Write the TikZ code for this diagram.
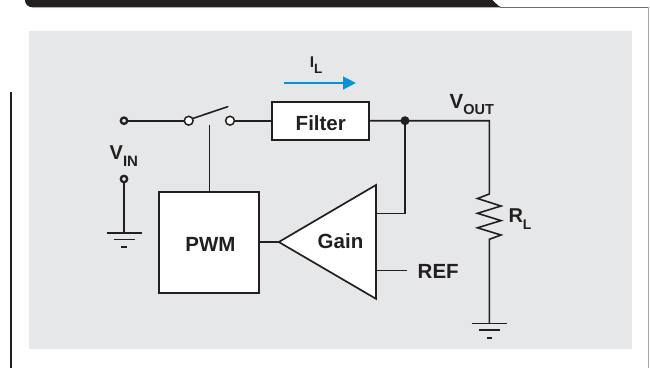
\documentclass[tikz,border=0pt]{standalone}
\usepackage{fontspec}
\setmainfont{Liberation Sans}
\usetikzlibrary{arrows.meta}
\definecolor{ink}{HTML}{231F20}
\definecolor{panel}{HTML}{E6E7E8}
\definecolor{cur}{RGB}{0,150,214}
\definecolor{rimdark}{HTML}{6D6E71}
\definecolor{rimlight}{HTML}{A7A9AC}
\begin{document}
\begin{tikzpicture}[x=1pt,y=-1pt,
  wire/.style={draw=ink,line width=1.6pt},
  boxnode/.style={draw=ink,line width=1.7pt,fill=white,inner sep=0pt},
  lbl/.style={text=ink,inner sep=0pt,font=\fontsize{20.5}{24}\selectfont\bfseries},
  term/.style={circle,draw=ink,line width=2.3pt,fill=panel,minimum size=6.4pt,inner sep=0pt},
  swc/.style={circle,draw=ink,line width=1.5pt,fill=white,minimum size=8.8pt,inner sep=0pt},
  gnd/.style={draw=ink,line width=1.6pt}]
\useasboundingbox (0,0) rectangle (650,368);
\fill[white] (0,0) rectangle (650,368);
% frame decorations
\fill[ink] (25,-2) -- (487,-2) .. controls (495,-2) and (495,7.4) .. (504,7.4) -- (33,7.4) .. controls (28,7.4) and (25,4) .. (25,0) -- cycle;
\draw[rimdark,line width=1.5pt] (500,7.3) -- (648.3,7.3);
\draw[rimlight,line width=1.5pt] (648.3,6.6) -- (648.3,368);
\draw[ink,line width=1.3pt] (11,92) -- (11,368);
\fill[panel] (29,31) rectangle (632,349);

% coordinates
\coordinate (bladeEnd) at (227.7,106.7);
\coordinate (swctl) at (209.3,125.3);
\coordinate (vcorner) at (489.3,120.7);
\coordinate (r0) at (489.3,194);
\coordinate (r1) at (477.5,198.5);
\coordinate (r2) at (501,206);
\coordinate (r3) at (477.5,213.3);
\coordinate (r4) at (501,220.6);
\coordinate (r5) at (477.5,227.8);
\coordinate (r6) at (501,235);
\coordinate (r7) at (489.3,239.3);
\coordinate (g1) at (124,232.7);
\coordinate (g2) at (489.3,323.3);
\coordinate (tip) at (278.8,242);
\coordinate (ttop) at (376,185);
\coordinate (tbot) at (376,298.8);
\coordinate (fbin) at (376,213.3);
\coordinate (fbcorner) at (405,213.3);
\coordinate (refin) at (376,270.5);
\coordinate (refend) at (407,270.5);
\coordinate (ia) at (284,83);
\coordinate (ib) at (356,83);

% wires first
\draw[wire] (124,120.7) -- (188.7,120.7);
\draw[wire] (230,120.7) -- (272,120.7);
\draw[wire] (369,120.7) -- (vcorner) -- (r0) -- (r1) -- (r2) -- (r3) -- (r4) -- (r5) -- (r6) -- (r7) -- (g2);
\draw[wire] (swctl) -- (209.3,192);
\draw[wire] (124,179) -- (g1);
\draw[wire] (259,242) -- (tip);
\draw[wire] (fbin) -- (fbcorner) -- (405,120.7);
\draw[wire] (refin) -- (refend);

% nodes
\node[term] (vin1) at (124,120.7) {};
\node[term] (vin2) at (124,179) {};
\node[swc] (swa) at (188.7,120.7) {};
\node[swc] (swb) at (230,120.7) {};
\draw[wire,line cap=round] (swa.28) -- (bladeEnd);
\node[boxnode,minimum width=97.6pt,minimum height=38.3pt] (filter) at (320.5,120.85) {};
\node[lbl,anchor=base] (filtertxt) at (320.8,130) {Filter};
\node[circle,fill=ink,minimum size=9pt,inner sep=0pt] (dot) at (405,120.7) {};
\node[boxnode,minimum width=100pt,minimum height=101pt] (pwm) at (209.3,242.2) {};
\node[lbl,anchor=base] (pwmtxt) at (210.5,251.7) {PWM};
\draw[ink,line width=1.7pt,fill=white] (tip) -- (ttop) -- (tbot) -- cycle;
\node[lbl,anchor=base] (gaintxt) at (340.5,248.7) {Gain};
\node[lbl,anchor=base west] (reftxt) at (417.5,278.3) {REF};

% grounds
\draw[gnd] (g1) ++(-17.5,0) -- ++(35,0);
\draw[gnd] (g1) ++(-10.5,6.6) -- ++(21,0);
\draw[gnd] (g1) ++(-2.8,14) -- ++(5.6,0);
\draw[gnd] (g2) ++(-17.5,0) -- ++(35,0);
\draw[gnd] (g2) ++(-10.8,6.7) -- ++(21.6,0);
\draw[gnd] (g2) ++(-2.6,14.4) -- ++(5.2,0);

% current arrow
\draw[cur,line width=2.4pt,-{Triangle[length=13pt,width=12.6pt]}] (ia) -- (ib);

% labels
\node[lbl,anchor=base west,font=\fontsize{20}{24}\selectfont\bfseries] (vinlbl) at (109.5,159.3) {V\raisebox{-6.7pt}{\fontsize{15}{15}\selectfont IN}};
\node[lbl,anchor=base west,font=\fontsize{20.5}{24}\selectfont\bfseries] (voutlbl) at (449.5,108.3) {V\raisebox{-5.7pt}{\fontsize{14.5}{15}\selectfont OUT}};
\node[lbl,anchor=base west,font=\fontsize{20}{24}\selectfont\bfseries] (rllbl) at (508.3,222.7) {R\raisebox{-6.6pt}{\fontsize{14}{14}\selectfont L}};
\node[lbl,anchor=base west,font=\fontsize{15.5}{18}\selectfont\bfseries] (illbl) at (309.6,67.3) {I\raisebox{-6pt}{\fontsize{13.5}{13}\selectfont L}};
\end{tikzpicture}
\end{document}
